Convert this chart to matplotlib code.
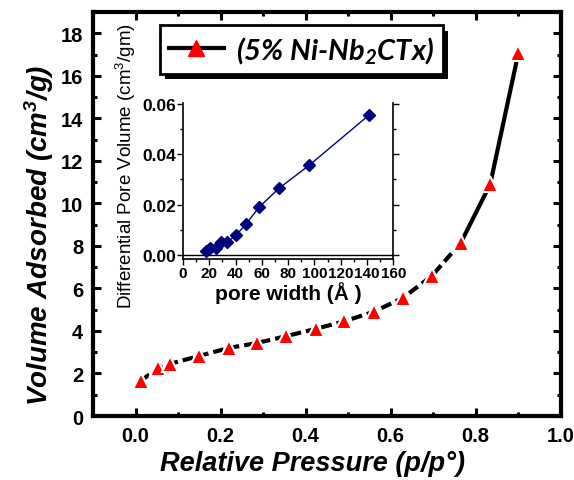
import matplotlib
matplotlib.use("Agg")
import matplotlib.pyplot as plt
import matplotlib.patheffects as pe
from matplotlib.lines import Line2D
from matplotlib.ticker import MultipleLocator

# isotherm (main plot)
p_rel = [0.012, 0.054, 0.080, 0.149, 0.219, 0.285, 0.353, 0.424, 0.490,
         0.560, 0.628, 0.696, 0.765, 0.834, 0.900]
vol_ads = [1.65, 2.27, 2.45, 2.82, 3.20, 3.43, 3.75, 4.10, 4.45,
           4.90, 5.55, 6.57, 8.15, 10.9, 17.05]

# pore size distribution (inset)
pore_w = [17.5, 20.6, 25.1, 29.0, 33.8, 40.2, 47.8, 57.9, 73.1, 96.2, 141.2]
pore_vol = [0.0016, 0.0029, 0.0027, 0.0053, 0.0052, 0.0078, 0.0122,
            0.0190, 0.0265, 0.0357, 0.0554]

legend_label = r"(5% Ni-Nb$\mathregular{_2}$CTx)"

plt.rcParams['font.family'] = ['Liberation Sans', 'DejaVu Sans']

fig = plt.figure(figsize=(5.74, 4.81), dpi=100)
ax = fig.add_axes([0.162, 0.133, 0.815, 0.840])

n_dash = 13
ax.plot(p_rel[:n_dash], vol_ads[:n_dash], color='k', lw=3, dashes=(2.6, 1.2), zorder=2)
ax.plot(p_rel[n_dash - 1:], vol_ads[n_dash - 1:], color='k', lw=3, zorder=2)
ax.plot(p_rel, vol_ads, ls='none', marker='^', ms=12, mfc='red', mec='white',
        mew=1.5, zorder=3)

ax.set_xlim(-0.1, 1.0)
ax.set_ylim(0, 19)
ax.xaxis.set_major_locator(MultipleLocator(0.2))
ax.xaxis.set_minor_locator(MultipleLocator(0.1))
ax.yaxis.set_major_locator(MultipleLocator(2))
ax.yaxis.set_minor_locator(MultipleLocator(1))
ax.set_xticks([0.0, 0.2, 0.4, 0.6, 0.8, 1.0])
ax.set_xticklabels(['0.0', '0.2', '0.4', '0.6', '0.8', '1.0'])
ax.tick_params(which='both', direction='in', top=True, right=True, width=2.2)
ax.tick_params(which='major', length=6, labelsize=14.5, pad=7)
ax.tick_params(which='minor', length=3)
for lab in ax.get_xticklabels() + ax.get_yticklabels():
    lab.set_fontweight('bold')
for sp in ax.spines.values():
    sp.set_linewidth(3)

ax.set_xlabel("Relative Pressure (p/p°)", fontsize=19.5,
              fontweight='bold', style='italic')
ax.xaxis.set_label_coords(0.47, -0.085)
ax.set_ylabel(r"Volume Adsorbed (cm$\mathregular{^3}$/g)", fontsize=20,
              fontweight='bold', style='italic')
ax.yaxis.set_label_coords(-0.08, 0.45)

handle = Line2D([], [], color='k', lw=3, marker='^', ms=12, mfc='red', mec='red')
leg = ax.legend([handle], [legend_label], loc='upper left',
                bbox_to_anchor=(0.143, 0.967), borderaxespad=0, frameon=True,
                fancybox=False, handlelength=1.9, handletextpad=0.4, borderpad=0.3,
                prop={'family': 'Lato', 'weight': 'bold', 'style': 'italic', 'size': 21})
leg.get_frame().set_edgecolor('k')
leg.get_frame().set_linewidth(2)
leg.get_frame().set_alpha(1)
leg.get_frame().set_path_effects([pe.SimplePatchShadow(offset=(4, -4), shadow_rgbFace='k', alpha=1),
                                  pe.Normal()])

# inset
ins = fig.add_axes([0.319, 0.459, 0.366, 0.325])
ins.plot(pore_w, pore_vol, color='#000080', lw=1, marker='D', ms=6,
         mfc='#000080', mec='#000080')
ins.axhline(0, color='k', lw=1)
ins.set_xlim(0, 160)
ins.set_ylim(-0.0017, 0.0604)
ins.xaxis.set_major_locator(MultipleLocator(20))
ins.xaxis.set_minor_locator(MultipleLocator(10))
ins.yaxis.set_major_locator(MultipleLocator(0.02))
ins.yaxis.set_minor_locator(MultipleLocator(0.01))
ins.set_yticks([0.0, 0.02, 0.04, 0.06])
ins.set_yticklabels(['0.00', '0.02', '0.04', '0.06'])
ins.spines['top'].set_visible(False)
ins.tick_params(which='both', direction='out', right=True, labelright=False, width=1)
ins.tick_params(which='major', length=4, pad=1)
ins.tick_params(which='minor', length=2)
ins.tick_params(axis='x', labelsize=11)
ins.tick_params(axis='y', labelsize=12.5)
for lab in ins.get_xticklabels() + ins.get_yticklabels():
    lab.set_fontweight('bold')
for sp in ins.spines.values():
    sp.set_linewidth(1.2)
ins.set_xlabel("pore width (Å )", fontsize=15, fontweight='bold')
ins.xaxis.set_label_coords(0.5, -0.14)
ins.set_ylabel(r"Differential Pore Volume (cm$\mathregular{^3}$/gm)", fontsize=13.5)
ins.yaxis.set_label_coords(-0.215, 0.6)

fig.savefig('out.png', dpi=100)
